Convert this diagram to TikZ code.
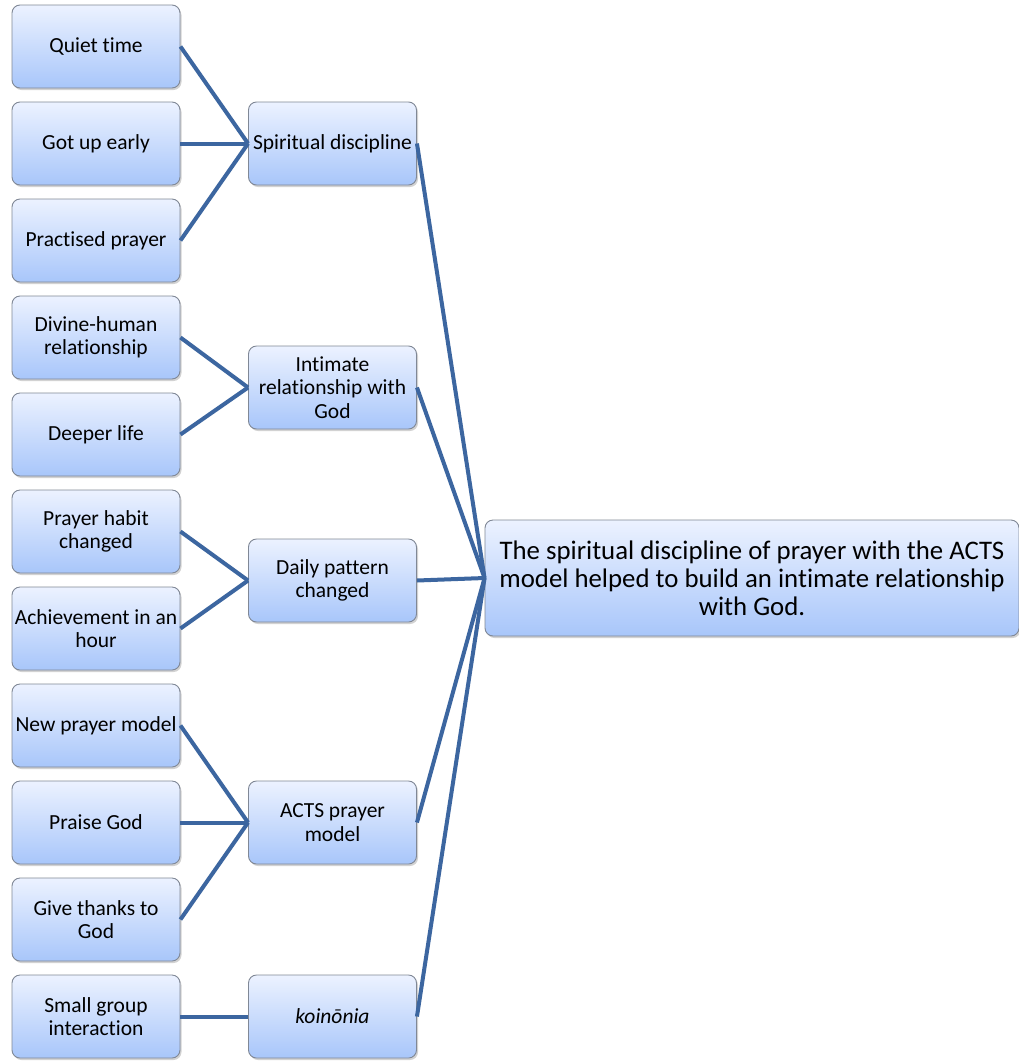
\documentclass[tikz,border=0pt]{standalone}
\usepackage{fontspec}
\setmainfont{Carlito}[Ligatures=NoCommon]
\usetikzlibrary{shadows}
\definecolor{linkblue}{RGB}{60,102,160}
\definecolor{boxtop}{RGB}{236,242,255}
\definecolor{boxbot}{RGB}{168,198,250}
\definecolor{boxline}{RGB}{128,136,150}
\tikzset{
  box/.style={draw=boxline, line width=0.9pt, rounded corners=8pt,
    top color=boxtop, bottom color=boxbot, align=center,
    minimum width=168pt, minimum height=83pt, inner sep=1pt,
    font=\fontsize{21.5}{23.5}\selectfont,
    drop shadow={opacity=0.35, shadow xshift=1.5pt, shadow yshift=-2pt}},
  bigbox/.style={box, minimum width=534pt, minimum height=116pt,
    font=\fontsize{26.8}{28}\selectfont},
  link/.style={draw=linkblue, line width=4pt}
}
\begin{document}
\begin{tikzpicture}[x=1pt,y=-1pt]
\useasboundingbox[fill=white] (0,0) rectangle (1019,1061);
% left column
\node[box] (q)  at (96,46.5)   {Quiet time};
\node[box] (g)  at (96,143.5)  {Got up early};
\node[box] (p)  at (96,240.5)  {Practised prayer};
\node[box] (dh) at (96,337.5)  {Divine-human\\relationship};
\node[box] (dl) at (96,434.5)  {Deeper life};
\node[box] (ph) at (96,531.5)  {Prayer habit\\changed};
\node[box] (ah) at (96,628.5)  {Achievement in an\\hour};
\node[box] (np) at (96,725.5)  {New prayer model};
\node[box] (pg) at (96,822.5)  {Praise God};
\node[box] (gt) at (96,919.5)  {Give thanks to\\God};
\node[box] (sg) at (96,1016.5) {Small group\\interaction};
% middle column
\node[box] (sd) at (332.5,143.5)  {Spiritual discipline};
\node[box] (ir) at (332.5,387.5)  {Intimate\\relationship with\\God};
\node[box] (dp) at (332.5,580.5)  {Daily pattern\\changed};
\node[box] (ac) at (332.5,822.5)  {ACTS prayer\\model};
\node[box] (ko) at (332.5,1016.5) {\itshape koinōnia};
% conclusion
\node[bigbox] (c) at (752,578) {The spiritual discipline of prayer with the ACTS\\model helped to build an intimate relationship\\with God.};
% links from the left column
\foreach \a/\b in {q/sd,g/sd,p/sd,dh/ir,dl/ir,ph/dp,ah/dp,np/ac,pg/ac,gt/ac,sg/ko}
  \draw[link] (\a.east) -- (\b.west);
% links into the conclusion
\foreach \a in {sd,ir,dp,ac,ko}
  \draw[link] (\a.east) -- (c.west);
\end{tikzpicture}
\end{document}
